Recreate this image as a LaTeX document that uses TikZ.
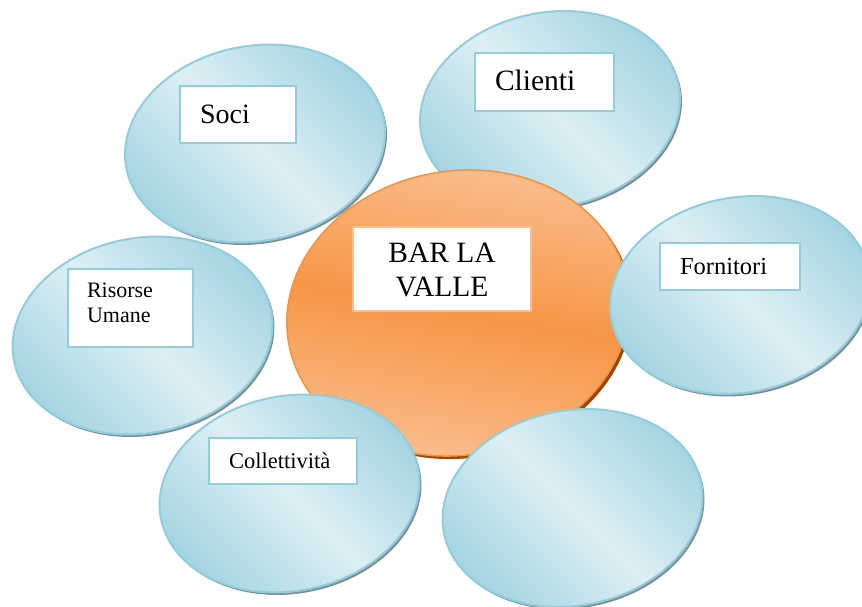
\documentclass[tikz,border=0pt]{standalone}
\usepackage{fontspec}
\setmainfont{Liberation Serif}
\usetikzlibrary{shapes.geometric}
\definecolor{bEdge}{RGB}{146,205,220}
\definecolor{bDark}{RGB}{163,212,225}
\definecolor{bLight}{RGB}{221,239,244}
\definecolor{bShadow}{RGB}{128,142,148}
\definecolor{oLight}{RGB}{250,192,146}
\definecolor{oMid}{RGB}{247,150,70}
\definecolor{oEdge}{RGB}{246,146,62}
\definecolor{oShadow}{RGB}{152,72,7}
\definecolor{oBox}{RGB}{250,192,144}
\begin{document}
\begin{tikzpicture}[x=1pt,y=-1pt,
  petalshape/.style={ellipse, inner sep=0pt, outer sep=0pt,
    minimum width=262pt, minimum height=195pt, rotate=11},
  petal/.style={petalshape, draw=bEdge, line width=2pt,
    top color=bDark, bottom color=bDark, middle color=bLight, shading angle=-45},
  petalshadow/.style={petalshape, fill=bShadow},
  hubshape/.style={ellipse, inner sep=0pt, outer sep=0pt,
    minimum width=344pt, minimum height=284pt, rotate=10},
  hub/.style={hubshape, draw=oEdge, line width=1.5pt,
    top color=oLight, bottom color=oLight, middle color=oMid, shading angle=-10},
  hubshadow/.style={hubshape, fill=oShadow},
  labelbox/.style={rectangle, draw=bEdge, line width=2pt, fill=white,
    inner sep=0pt, outer sep=0pt, anchor=north west},
  hubbox/.style={labelbox, draw=oBox},
  txt/.style={inner sep=0pt, outer sep=0pt, text=black}
]
\useasboundingbox (0,0) rectangle (862,606);

% left petals and top
\node[petalshadow] (risorseS) at (144.5,338) {};
\node[petal] (risorse) at (142.5,335.5) {};
\node[petalshadow] (sociS) at (257,146) {};
\node[petal] (soci) at (255,143.5) {};
\node[petalshadow] (clientiS) at (552,112.5) {};
\node[petal] (clienti) at (550,110) {};

% hub
\node[hubshadow] (hubS) at (461,316) {};
\node[hub] (hub) at (458,313) {};

% right and bottom petals
\node[petalshadow] (fornitoriS) at (742,297.5) {};
\node[petal] (fornitori) at (740,295) {};
\node[petalshadow] (collS) at (291.5,496) {};
\node[petal] (coll) at (289.5,493.5) {};
\node[petalshadow] (emptyS) at (574.5,510.5) {};
\node[petal] (empty) at (572.5,508) {};

% label boxes
\node[labelbox, minimum width=116pt, minimum height=57pt] (sociBox) at (180,86) {};
\node[txt, anchor=base west, font=\fontsize{28}{33}\selectfont] (sociText) at (200,123) {Soci};

\node[labelbox, minimum width=139pt, minimum height=58pt] (clientiBox) at (475,53) {};
\node[txt, anchor=base west, font=\fontsize{29.5}{34}\selectfont] (clientiText) at (495,90) {Clienti};

\node[hubbox, minimum width=178pt, minimum height=84pt] (hubBox) at (353,227) {};
\node[txt, anchor=center, align=center, font=\fontsize{29.5}{34}\selectfont] (hubText) at (442,270.3) {BAR LA\\VALLE};

\node[labelbox, minimum width=125pt, minimum height=78pt] (risorseBox) at (68,269) {};
\node[txt, anchor=west, align=left, font=\fontsize{22}{25}\selectfont] (risorseText) at (87,303) {Risorse\\Umane};

\node[labelbox, minimum width=140pt, minimum height=47pt] (fornitoriBox) at (660,243) {};
\node[txt, anchor=base west, font=\fontsize{24.5}{29}\selectfont] (fornitoriText) at (680,274) {Fornitori};

\node[labelbox, minimum width=148pt, minimum height=46pt] (collBox) at (209,438) {};
\node[txt, anchor=base west, font=\fontsize{22.5}{27}\selectfont] (collText) at (229,468) {Collettività};
\end{tikzpicture}
\end{document}
